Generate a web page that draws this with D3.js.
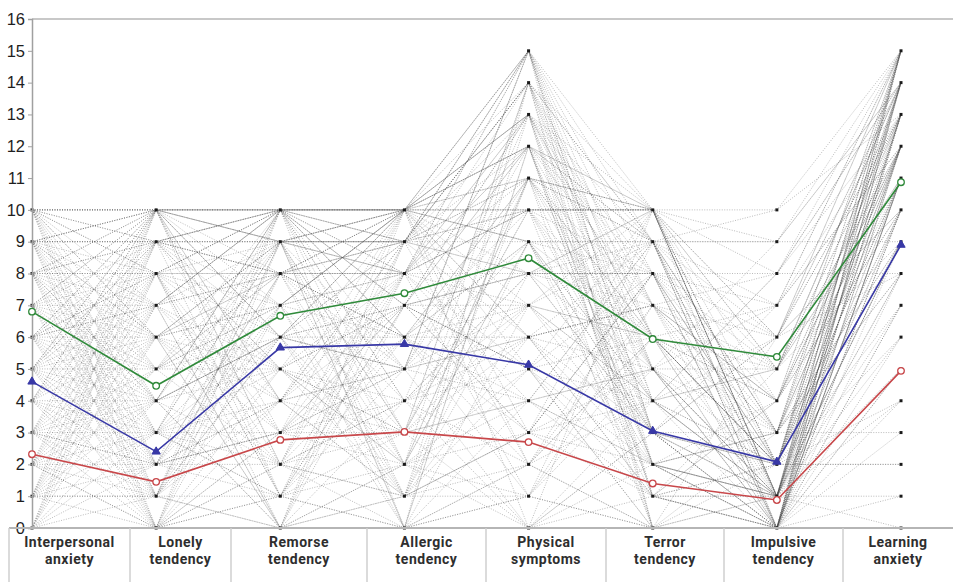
<!DOCTYPE html>
<html><head><meta charset="utf-8">
<script src="https://cdn.jsdelivr.net/npm/d3@7"></script>
<style>
html,body{margin:0;padding:0;background:#fff;}
svg{display:block;}
</style></head>
<body>
<svg id="chart" width="953" height="582"></svg>
<script>
// ---------- DATA ----------
const dimensions = ["Interpersonal anxiety","Lonely tendency","Remorse tendency","Allergic tendency","Physical symptoms","Terror tendency","Impulsive tendency","Learning anxiety"];
const labelLines = [["Interpersonal","anxiety"],["Lonely","tendency"],["Remorse","tendency"],["Allergic","tendency"],["Physical","symptoms"],["Terror","tendency"],["Impulsive","tendency"],["Learning","anxiety"]];
const yTicks = [0,1,2,3,4,5,6,7,8,9,10,11,12,13,14,15,16];

// mean profiles of three groups
const greenMeans = [6.8, 4.47, 6.67, 7.38, 8.48, 5.94, 5.38, 10.87];
const blueMeans  = [4.6, 2.4, 5.67, 5.78, 5.13, 3.05, 2.08, 8.9];
const redMeans   = [2.32, 1.45, 2.77, 3.02, 2.7, 1.4, 0.88, 4.94];

// individual records (scores on the 8 dimensions)
const records = [
[10,10,10,10,15,10,10,15],[10,9,10,10,14,9,9,15],[9,10,9,10,13,10,8,14],[10,8,10,9,12,9,7,15],
[9,9,10,10,11,10,6,13],[8,10,9,8,15,8,5,14],[10,7,8,10,10,10,4,12],[7,10,10,9,14,9,3,15],
[9,8,7,10,13,7,2,14],[8,9,10,7,12,10,1,13],[10,6,9,10,9,8,0,15],[6,10,8,9,15,6,2,11],
[9,7,10,6,11,9,3,12],[8,8,6,10,10,10,1,14],[7,9,9,8,13,5,0,13],[10,5,10,7,8,7,4,10],
[5,10,7,10,12,8,2,15],[9,6,8,9,14,4,1,12],[6,8,10,5,9,9,0,11],[8,7,5,10,7,10,3,14],
[7,6,9,9,11,6,5,9],[4,10,10,8,15,7,1,13],[10,4,6,10,6,9,2,15],[5,9,8,6,10,10,6,10],
[9,5,7,10,13,3,0,14],[6,7,10,7,8,8,2,12],[8,3,9,8,12,5,1,11],[3,8,10,10,9,6,4,15],
[7,5,6,9,14,7,3,8],[10,2,8,6,11,10,1,13],[4,7,9,5,7,9,0,10],[6,4,10,8,10,4,2,14],
[9,3,5,7,5,8,7,12],[2,9,7,10,12,2,1,9],[5,6,4,9,8,10,0,11],[8,2,10,4,13,6,3,15],
[3,5,8,6,6,7,5,13],[7,1,9,10,9,3,2,7],[1,10,6,5,11,9,1,12],[6,3,7,8,4,5,0,14],
[10,0,9,3,10,8,4,10],[4,4,5,7,7,6,1,9],[2,7,10,4,8,10,2,15],[5,2,3,10,5,4,6,8],
[8,5,8,2,9,2,0,11],[3,3,6,6,3,8,3,13],[0,8,9,9,10,5,1,6],[6,1,4,5,6,7,0,12],
[9,4,2,8,12,1,2,10],[1,6,7,3,4,9,5,14],[4,2,8,4,7,3,1,7],[7,0,3,6,2,6,0,11],
[2,5,5,2,9,4,2,13],[5,3,1,7,5,10,1,5],[0,4,6,5,6,2,3,9],[3,1,9,1,3,5,0,15],
[8,4,0,4,8,3,1,8],[1,2,4,8,1,7,4,12],[6,0,5,3,4,1,0,10],[2,3,2,6,7,6,2,6],
[4,1,7,0,2,4,1,14],[0,2,3,4,5,0,0,11],[5,0,1,5,0,3,2,4],[3,4,0,2,3,8,0,7],
[1,1,5,3,6,1,1,13],[2,0,2,1,1,5,3,3],[0,3,1,6,4,2,0,9],[4,0,0,0,2,0,1,8],
[1,0,3,2,0,3,0,5],[0,1,0,1,3,1,2,2],[2,2,1,0,1,0,0,6],[0,0,2,3,0,2,1,1],
[1,1,0,1,2,0,0,4],[0,0,0,0,0,1,0,3],[3,2,4,5,4,2,1,10],[7,4,6,7,8,5,2,12],
[5,7,8,9,11,7,3,14],[6,5,7,6,9,4,1,9],[4,6,5,4,6,3,0,7],[8,6,7,8,10,6,2,11],
[2,4,6,7,5,1,0,8],[9,9,9,10,15,9,6,15],[10,10,9,9,14,10,9,14],[10,9,8,8,13,9,10,13],
[9,10,10,10,12,10,5,12],[3,6,3,8,5,0,0,5],[6,2,6,1,3,4,1,11],[1,5,2,4,2,6,2,10],
[7,3,4,3,7,2,0,13],[5,1,6,9,10,3,1,12],[10,10,10,10,10,10,1,0],[9,9,9,9,9,9,9,9],
[8,8,8,8,8,8,8,8],[10,10,10,10,11,10,2,2],[0,0,1,2,1,0,0,1],[3,7,4,1,6,5,1,4],
[2,8,3,7,13,6,4,11],[6,9,5,2,14,3,6,13],[3,10,2,9,15,4,5,12],[8,1,8,5,12,7,8,14],
[5,8,0,8,11,5,7,15],[1,9,8,1,13,8,6,10],[7,2,2,10,15,3,3,9],[4,9,1,3,14,5,9,14],
[9,1,6,2,11,2,4,15],[2,10,9,0,12,1,5,11],[10,3,3,5,15,0,2,12],[0,9,5,8,14,6,7,13],
[6,6,0,10,13,2,3,8],[3,0,10,2,11,4,8,15],[8,10,1,7,12,3,6,14],[1,3,9,9,15,5,5,13],
[5,9,10,0,14,1,4,12],[9,0,4,9,13,0,3,11],[0,6,8,10,12,2,1,10],[7,8,2,1,11,6,2,9],
[4,3,10,6,9,3,7,12],[10,1,1,8,7,4,5,14],[2,6,9,3,10,0,6,15],[6,10,4,10,6,1,4,13],
[8,0,7,1,5,2,3,12],[1,8,1,9,8,8,2,14],[5,5,9,2,4,9,1,15],[9,2,3,7,3,10,5,11],
[3,9,6,10,2,7,4,13],[0,7,10,6,1,9,3,12],[7,10,2,4,0,10,2,14],[4,8,8,10,3,8,1,15],
[10,6,0,2,5,6,0,12],[2,1,10,9,6,7,6,14],[6,8,1,0,7,4,8,13],[8,9,4,1,9,1,1,15],
[1,4,10,10,8,3,2,11],[5,10,3,3,11,0,0,14],[9,6,2,0,4,5,1,13],[3,2,7,10,0,4,0,12],
[0,10,4,7,3,2,1,15],[7,7,0,9,2,8,0,10],[4,10,6,0,1,6,2,13],[10,8,5,1,8,9,0,14],
[2,0,8,8,10,10,1,12],[6,7,3,5,15,2,0,11],[8,4,10,3,14,0,1,9],[1,7,0,7,13,1,0,15],
[5,4,9,0,12,9,1,14],[9,10,6,5,15,3,0,13]
];

// ---------- LAYOUT ----------
const svg = d3.select("#chart");
const W = 953, H = 582;
const plotTop = 19, plotBottom = 528, plotLeft = 32, plotRight = 901;
const boxEdges = [9,130,231,367,486,606,724,843,953];

const x = d3.scalePoint().domain(dimensions).range([plotLeft, plotRight]);
const y = d3.scaleLinear().domain([0,16]).range([plotBottom, plotTop]);

// frame line at top
svg.append("line").attr("x1",plotLeft).attr("x2",W).attr("y1",plotTop).attr("y2",plotTop)
  .attr("stroke","#c8c8c8").attr("stroke-width",2);

// individual lines
const lineGen = d3.line().x((d,i)=>x(dimensions[i])).y(d=>y(d));
const bg = svg.append("g");
bg.selectAll("path").data(records).join("path")
  .attr("d", lineGen)
  .attr("fill","none")
  .attr("stroke","#4a4a4a")
  .attr("stroke-width",0.75)
  .attr("stroke-dasharray","1,1.5")
  .attr("opacity",0.5);

// axis points
const pts = [];
dimensions.forEach((dim,i)=>{
  const vals = Array.from(new Set(records.map(r=>r[i])));
  vals.forEach(v=>pts.push({dim, v}));
});
svg.append("g").selectAll("rect").data(pts).join("rect")
  .attr("x", d=>x(d.dim)-1.5).attr("y", d=>y(d.v)-1.5)
  .attr("width",3).attr("height",3).attr("fill","#1a1a1a");

// y axis
const yAxis = d3.axisLeft(y).tickValues(yTicks).tickSize(4).tickPadding(3).tickFormat(d3.format("d"));
const ya = svg.append("g").attr("transform",`translate(${plotLeft},0)`).call(yAxis);
ya.select(".domain").attr("stroke","#a0a0a0").attr("stroke-width",1.5);
ya.selectAll(".tick line").attr("stroke","#a0a0a0");
ya.selectAll(".tick text").attr("font-family","Liberation Sans, Arial, sans-serif")
  .attr("font-size",16.5).attr("fill","#1e1e1e");

// label boxes
svg.append("line").attr("x1",boxEdges[0]).attr("x2",W).attr("y1",plotBottom).attr("y2",plotBottom)
  .attr("stroke","#b5b5b5").attr("stroke-width",2);
svg.append("g").selectAll("line").data(boxEdges.slice(0,-1)).join("line")
  .attr("x1",d=>d).attr("x2",d=>d).attr("y1",plotBottom).attr("y2",H)
  .attr("stroke","#cfcfcf").attr("stroke-width",1.5);

// axis names: one text element per line
const labelItems = [];
labelLines.forEach((lines,i)=>lines.forEach((s,k)=>labelItems.push({i,k,s})));
svg.append("g").selectAll("text").data(labelItems).join("text")
  .attr("x",d=>(boxEdges[d.i]+boxEdges[d.i+1])/2)
  .attr("y",d=>547 + d.k*17)
  .attr("text-anchor","middle")
  .attr("font-family","Roboto, sans-serif")
  .attr("font-weight",700)
  .attr("font-size",14)
  .attr("letter-spacing","0.5px")
  .attr("fill","#2e2e2e")
  .text(d=>d.s);

// mean lines
const groups = [
  {vals: greenMeans, color:"#2f8a3a", marker:"circle"},
  {vals: blueMeans,  color:"#3838a6", marker:"triangle"},
  {vals: redMeans,   color:"#c8474a", marker:"circle"}
];
groups.forEach(g=>{
  svg.append("path").datum(g.vals).attr("d",lineGen)
    .attr("fill","none").attr("stroke",g.color).attr("stroke-width",1.6);
  const m = svg.append("g").selectAll("path").data(g.vals).join("path")
    .attr("transform",(d,i)=>`translate(${x(dimensions[i])},${y(d)})`)
    .attr("stroke",g.color);
  if (g.marker==="circle") {
    m.attr("d", d3.symbol().type(d3.symbolCircle).size(34)).attr("fill","#fff").attr("stroke-width",1.3);
  } else {
    m.attr("d", d3.symbol().type(d3.symbolTriangle).size(30)).attr("fill",g.color).attr("stroke-width",1);
  }
});
</script>
</body></html>
